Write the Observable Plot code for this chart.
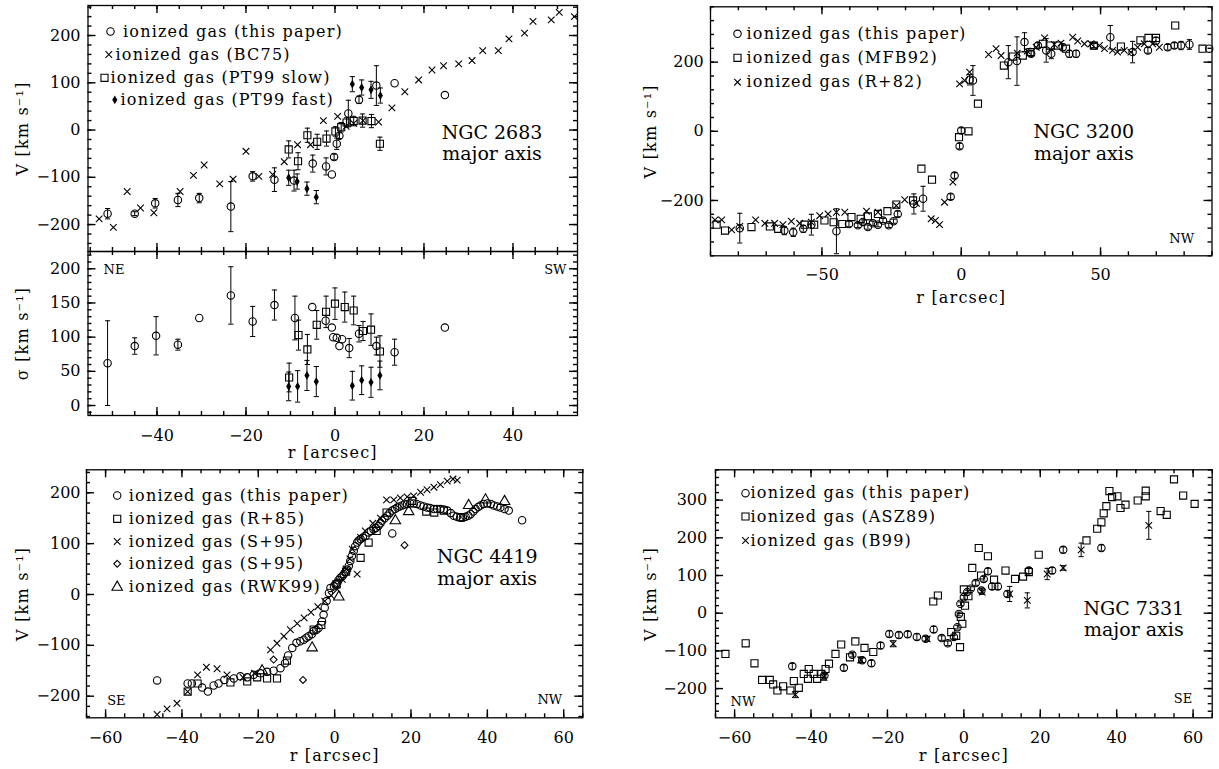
<!DOCTYPE html>
<html><head><meta charset="utf-8">
<script src="https://cdn.jsdelivr.net/npm/d3@7"></script>
<script src="https://cdn.jsdelivr.net/npm/@observablehq/plot@0.6"></script>
<style>
body{margin:0;background:#fff;}
#fig{position:relative;width:1219px;height:769px;overflow:hidden;background:#fff;}
#fig > div{position:absolute;}
#fig svg{overflow:visible;}
#fig g[aria-description="spaced"] text{letter-spacing:1.2px;}
</style></head><body><div id="fig"></div>
<script>
// ---------------- DATA ----------------
// NGC 2683, rotation velocity [r arcsec, V km/s, error]
const n2683V_this = [[-51.1,-177,11],[-45.0,-177,4],[-40.4,-155,10],[-35.3,-148,14],[-30.5,-144,10],[-23.4,-162,53],[-18.5,-98,10],[-13.6,-105,25],[-9.2,-107,22],[-5.0,-71,18],[-2.0,-77,18],[-0.7,-94,0],[-0.2,-57,6],[0.4,-29,12],[1.0,-12,6],[3.0,35,28],[5.4,64,8],[9.3,94,42],[13.4,99,0],[24.7,74,0]];
const n2683V_bc75 = [[-53,-188],[-49.8,-206],[-46.7,-130],[-43.7,-165],[-40.7,-175],[-34.8,-130],[-31.8,-96],[-29.4,-74],[-25.9,-114],[-22.9,-104],[-20.0,-45],[-17.1,-98],[-14.0,-94],[-11.4,-67],[-8.4,-31],[-5.5,-31],[-2.6,20],[0.6,29],[2.5,8],[4.2,14],[6.3,20],[9.8,17],[12.8,47],[15.7,81],[18.8,106],[21.8,127],[24.4,136],[27.8,140],[30.8,147],[33.2,168],[36.7,168],[39.1,193],[42.6,205],[44.5,230],[48.6,233],[50.4,249],[53.8,240]];
const n2683V_pt99slow = [[-10.4,-41,18],[-8.3,-66,18],[-6.2,-11,15],[-4.0,-25,16],[-1.9,-18,16],[0.1,-3,10],[1.4,6,10],[2.6,16,10],[4.2,19,10],[6.2,20,14],[8.2,19,14],[10.1,-29,14]];
const n2683V_pt99fast = [[-10.4,-101,16],[-8.5,-109,16],[-6.3,-124,14],[-4.2,-142,14],[3.9,97,16],[6.0,90,16],[8.1,85,18],[10.2,73,16]];
// NGC 2683, velocity dispersion [r, sigma, error]
const n2683S_this = [[-51.1,62,62],[-45.0,87,12],[-40.2,102,28],[-35.3,89,8],[-30.5,128,0],[-23.4,161,42],[-18.5,123,22],[-13.6,147,22],[-9.0,128,32],[-5.1,144,0],[-2.1,124,0],[-0.7,114,0],[-0.4,100,0],[0.4,99,0],[1.0,87,0],[1.6,97,0],[3.2,84,14],[5.4,105,12],[9.3,87,13],[13.4,78,19],[24.7,114,0]];
const n2683S_pt99slow = [[-10.3,41,21],[-8.2,103,22],[-6.2,82,22],[-4.1,118,21],[-2.0,137,23],[0.0,149,23],[2.2,144,22],[4.2,139,21],[6.3,109,14],[8.1,111,23],[10.1,79,23]];
const n2683S_pt99fast = [[-10.4,28,21],[-8.4,28,23],[-6.3,44,22],[-4.2,35,22],[3.9,29,21],[6.0,37,21],[8.1,34,22],[10.1,44,21]];

// NGC 3200
const n3200_this = [[-79.5,-280,43],[-63.5,-287,12],[-60.3,-292,12],[-56.7,-282,10],[-53.8,-270,30],[-44.8,-289,65],[-40.3,-268,8],[-37.1,-272,6],[-35.3,-262,6],[-33.5,-277,6],[-31.7,-266,6],[-29.9,-270,6],[-28.1,-258,6],[-26.0,-272,6],[-24.3,-260,6],[-22.8,-239,8],[-17.0,-210,29],[-13.7,-195,36],[-3.8,-189,8],[-2.4,-128,8],[-0.6,-43,8],[0.0,2,8],[3.0,149,15],[4.2,147,43],[16.9,200,48],[20.0,203,70],[22.7,258,27],[25.1,224,8],[27.5,248,8],[30.5,234,34],[32.3,224,14],[36.4,243,10],[38.8,224,10],[41.2,224,10],[47.6,248,6],[53.5,272,34],[61.5,229,31],[67.0,234,8],[69.9,262,10],[74.1,243,8],[76.5,248,8],[78.9,248,12],[81.9,251,14],[89.0,239,0]];
const n3200_mfb92 = [[-87.8,-270],[-84.8,-287],[-75.3,-277],[-68.7,-275],[-65.7,-282],[-56.2,-270],[-52.8,-270],[-49.1,-258],[-45.8,-263],[-42.7,-268],[-39.4,-248],[-36.1,-253],[-33.5,-246],[-29.9,-239],[-26.5,-231],[-23.3,-212],[-17.3,-200],[-14.3,-108],[-10.5,-140],[-0.8,-17],[2.6,0],[6.0,80],[15.3,190],[18.5,216],[22.1,219],[24.8,229],[29.3,253],[32.0,248],[34.7,248],[37.6,239],[47.6,248],[57.3,245],[64.3,263],[67.2,270],[69.9,270],[76.8,306],[86.6,239]];
const n3200_r82 = [[-88.4,-256],[-86.0,-256],[-82.4,-285],[-79.5,-275],[-73.8,-256],[-70.5,-266],[-67.0,-266],[-64.0,-270],[-61.0,-260],[-58.0,-266],[-53.8,-263],[-50.8,-244],[-47.8,-239],[-44.8,-234],[-41.8,-234],[-34.0,-231],[-29.9,-234],[-23.3,-215],[-20.3,-198],[-16.1,-208],[-10.8,-253],[-9.3,-258],[-7.8,-270],[-6.0,-205],[-3.0,-147],[-0.6,137],[1.2,147],[3.0,171],[9.8,222],[12.5,239],[14.3,219],[20.1,226],[23.7,232],[26.9,243],[29.9,270],[33.4,251],[35.8,255],[40.0,272],[41.8,261],[44.2,253],[46.6,253],[49.6,248],[51.4,239],[54.3,234],[56.1,229],[58.5,234],[60.9,229],[63.3,243],[65.7,253],[68.7,253],[71.1,243]];

// NGC 4419
const n4419_this = [[-46.5,-169],[-38.5,-175],[-37.4,-175],[-34.7,-183],[-33.2,-191],[-31.7,-179],[-30.4,-175],[-28.9,-168],[-26.4,-165],[-24.7,-161],[-22.9,-163],[-21.2,-158],[-19.4,-155],[-17.7,-152],[-16.0,-150],[-14.2,-145],[-13.0,-135],[-12.2,-120],[-11.1,-105],[-10.0,-95],[-9.0,-92],[-8.1,-89],[-7.4,-85],[-6.8,-82],[-6.0,-78],[-5.5,-72],[-4.8,-70],[-4.2,-66],[-3.3,-53],[-2.9,-40],[-2.6,-26],[-2.1,-13],[-1.5,3],[-1.1,13],[-0.2,16],[0.2,20],[0.7,23],[1.0,28],[1.5,33],[2.0,36],[2.4,40],[2.8,44],[3.3,49],[3.7,56],[4.1,66],[4.5,75],[5.0,86],[5.4,95],[5.9,102],[6.3,106],[6.8,109],[7.4,112],[8.1,115],[8.9,122],[9.5,125],[10.2,128],[10.8,131],[11.5,135],[12.0,140],[12.4,145],[13.1,150],[13.8,155],[14.4,160],[15.1,165],[15.8,168],[16.4,171],[17.0,173],[17.7,175],[18.3,177],[19.0,178],[19.8,179],[20.7,179],[21.5,178],[22.5,175],[23.3,173],[24.2,171],[25.0,170],[26.0,168],[26.8,168],[27.7,168],[28.6,167],[29.5,165],[30.4,160],[31.2,155],[32.0,153],[32.9,151],[33.6,151],[34.3,153],[35.0,155],[35.6,158],[36.3,163],[36.9,168],[37.6,172],[38.2,175],[39.0,178],[40.0,179],[40.9,178],[41.7,175],[42.6,173],[43.4,171],[44.5,168],[45.6,165],[49.1,146],[15.1,120]];
const n4419_r85 = [[-38.5,-191],[-35.9,-175],[-27.3,-173],[-22.9,-171],[-20.3,-163],[-17.7,-165],[-15.1,-165],[-12.5,-130],[-5.5,-69],[-3.5,-60],[0.5,20],[3.0,45],[6.8,72],[8.9,102],[11.0,125],[13.6,161],[20.3,184],[24.0,163],[26.1,161],[28.6,165],[33.0,152]];
const n4419_s95x = [[-46.5,-236],[-43.9,-225],[-41.3,-214],[-38.5,-191],[-35.9,-158],[-33.6,-143],[-30.8,-146],[-28.2,-158],[-24.0,-163],[-21.0,-155],[-16.8,-109],[-15.1,-96],[-13.3,-82],[-11.6,-69],[-9.8,-57],[-8.0,-46],[-6.2,-35],[-4.4,-24],[-2.6,-13],[-0.9,-2],[0.7,10],[2.0,30],[3.0,50],[4.0,70],[4.6,89],[5.9,40],[6.8,112],[8.0,125],[10.0,140],[12.0,150],[13.6,186],[15.5,186],[17.2,190],[19.0,192],[20.7,194],[22.5,201],[24.2,206],[26.0,211],[27.7,216],[29.5,223],[31.0,227],[32.1,225]];
const n4419_s95d = [[-16.0,-128],[-8.3,-168],[18.3,97]];
const n4419_rwk99 = [[-19.0,-150],[-5.9,-105],[1.1,-5],[15.9,145],[19.4,163],[35.1,175],[39.5,186],[44.5,183]];

// NGC 7331
const n7331_this = [[-44.9,-141,8],[-36.5,-165,5],[-31.4,-145,8],[-29.2,-110,6],[-26.6,-125,6],[-24.2,-133,8],[-21.8,-86,8],[-19.5,-55,8],[-17.0,-58,8],[-14.7,-56,8],[-12.3,-63,8],[-10.0,-68,6],[-7.9,-43,8],[-5.8,-66,6],[-4.2,-80,6],[-2.6,-63,5],[-1.7,-37,5],[-1.3,-2,5],[-0.9,25,5],[0.0,42,5],[0.9,56,5],[1.8,65,5],[3.1,80,6],[4.6,60,6],[5.2,91,6],[6.3,111,8],[7.4,71,8],[8.9,71,8],[11.4,51,8],[17.0,113,8],[23.1,113,8],[26.0,168,8],[36.0,173,8]];
const n7331_asz89 = [[-62.4,-108],[-57.1,-80],[-54.8,-133],[-52.8,-177],[-50.8,-177],[-49.9,-189],[-48.8,-205],[-47.3,-194],[-45.4,-205],[-44.5,-180],[-43.2,-198],[-41.9,-161],[-40.8,-174],[-40.6,-148],[-39.3,-161],[-38.4,-174],[-37.3,-161],[-36.2,-148],[-35.3,-134],[-33.6,-108],[-32.1,-83],[-29.8,-117],[-28.4,-75],[-26.0,-92],[-23.7,-103],[-8.0,31],[-6.8,47],[-3.3,-50],[-2.0,-60],[-1.0,-90],[-0.8,-10],[-0.4,-28],[0.0,63],[0.3,20],[1.2,45],[2.2,120],[3.9,173],[4.5,100],[6.3,151],[7.9,89],[10.9,113],[13.4,91],[15.5,97],[17.0,109],[19.6,155],[32.1,193],[34.9,224],[36.0,241],[36.6,265],[37.3,284],[38.1,324],[38.8,308],[40.2,310],[41.0,279],[42.3,288],[45.5,299],[47.6,310],[47.6,325],[51.5,271],[53.1,261],[55.0,355],[57.4,312],[60.4,290]];
const n7331_b99 = [[-44.1,-216,8],[-36.6,-170,8],[-27.0,-124,8],[-18.5,-81,8],[-9.6,-68,6],[4.8,56,6],[12.0,51,20],[16.6,34,20],[21.8,104,15],[26.0,120,6],[30.7,168,18],[48.4,233,37]];

// axis tick values
const ticks2683X = [-40,-20,0,20,40];
const ticks2683V = [-200,-100,0,100,200];
const ticks2683S = [0,50,100,150,200];
const ticks3200X = [-50,0,50];
const ticks3200V = [-200,0,200];
const ticks4419X = [-60,-40,-20,0,20,40,60];
const ticks4419V = [-200,-100,0,100,200];
const ticks7331X = [-60,-40,-20,0,20,40,60];
const ticks7331V = [-200,-100,0,100,200,300];

// legend / label texts
const leg2683 = ["ionized gas (this paper)","ionized gas (BC75)","ionized gas (PT99 slow)","ionized gas (PT99 fast)"];
const leg3200 = ["ionized gas (this paper)","ionized gas (MFB92)","ionized gas (R+82)"];
const leg4419 = ["ionized gas (this paper)","ionized gas (R+85)","ionized gas (S+95)","ionized gas (S+95)","ionized gas (RWK99)"];
const leg7331 = ["ionized gas (this paper)","ionized gas (ASZ89)","ionized gas (B99)"];

// ---------------- STYLE ----------------
const SYM = {
  circle:   {symbol: "circle",   r: 3.7, fill: "none"},
  times:    {symbol: "times",    r: 3.1, fill: "none"},
  square:   {symbol: "square",   r: 4.0, fill: "none"},
  fdiamond: {symbol: "diamond",  r: 2.0, fill: "black"},
  odiamond: {symbol: "diamond2", r: 3.1, fill: "none"},
  triangle: {symbol: "triangle", r: 3.9, fill: "none"}
};
const capSymbol = {draw(ctx, size) { const w = Math.sqrt(size / Math.PI); ctx.moveTo(-w, 0); ctx.lineTo(w, 0); }};
const FONT = "'DejaVu Serif', serif";

function seriesMarks(data, symKey, err) {
  const out = [];
  if (err) {
    const eb = data.filter(d => d[2] > 0);
    out.push(Plot.ruleX(eb, {x: d => d[0], y1: d => d[1] - d[2], y2: d => d[1] + d[2], stroke: "black", strokeWidth: 1}));
    out.push(Plot.dot(eb, {x: d => d[0], y: d => d[1] - d[2], symbol: capSymbol, r: 2.6, fill: "none", stroke: "black", strokeWidth: 1}));
    out.push(Plot.dot(eb, {x: d => d[0], y: d => d[1] + d[2], symbol: capSymbol, r: 2.6, fill: "none", stroke: "black", strokeWidth: 1}));
  }
  const s = SYM[symKey];
  out.push(Plot.dot(data, {x: d => d[0], y: d => d[1], symbol: s.symbol, r: s.r, fill: s.fill, stroke: "black", strokeWidth: 1.1}));
  return out;
}

function panel(cfg) {
  const [bx, by, bw, bh] = cfg.box, [L, T, R, B] = cfg.frame;
  const [x0, x1] = cfg.xDomain, [y0, y1] = cfg.yDomain;
  // tick lengths in pixels, converted to data units of each scale (inward ticks on all sides)
  const ux = px => px * (x1 - x0) / (R - L);
  const uy = px => px * (y1 - y0) / (B - T);
  const marks = [];
  const tk = {stroke: "black", strokeWidth: 1.4};
  for (const [t, len] of [[cfg.xMinor, 4], [cfg.xMajor, 8]]) {
    marks.push(Plot.ruleX(t, {x: d => d, y1: y0, y2: y0 + uy(len), ...tk}));
    marks.push(Plot.ruleX(t, {x: d => d, y1: y1 - uy(len), y2: y1, ...tk}));
  }
  for (const [t, len] of [[cfg.yMinor, 4], [cfg.yMajor, 8]]) {
    marks.push(Plot.ruleY(t, {y: d => d, x1: x0, x2: x0 + ux(len), ...tk}));
    marks.push(Plot.ruleY(t, {y: d => d, x1: x1 - ux(len), x2: x1, ...tk}));
  }
  if (cfg.xPad != null) marks.push(Plot.axisX(cfg.xMajor, {anchor: "bottom", tickSize: 0, tickPadding: cfg.xPad, label: null, fontSize: 16, fill: "black"}));
  marks.push(Plot.axisY(cfg.yMajor, {anchor: "left", tickSize: 0, tickPadding: cfg.yPad, label: null, fontSize: 16, fill: "black"}));
  marks.push(Plot.frame({stroke: "black", strokeWidth: 1.3}));
  for (const s of cfg.series) marks.push(...seriesMarks(s.data, s.sym, s.err));
  // axis titles
  marks.push(Plot.text([cfg.yTitle], {frameAnchor: "left", dx: cfg.yTitleDx, rotate: -90, fontSize: 16, textAnchor: "middle", lineAnchor: "middle", ariaDescription: "spaced"}));
  if (cfg.xTitle) marks.push(Plot.text([cfg.xTitle], {frameAnchor: "bottom", dy: cfg.xTitleDy, fontSize: 16, lineAnchor: "middle", ariaDescription: "spaced"}));
  // galaxy name
  if (cfg.name) marks.push(Plot.text([cfg.name], {frameAnchor: "top-left", dx: cfg.nameAt[0], dy: cfg.nameAt[1], fontSize: 19, lineHeight: 1.12, textAnchor: "middle", lineAnchor: "middle"}));
  // corner labels
  for (const c of (cfg.corners || [])) marks.push(Plot.text([c.text], {frameAnchor: c.anchor, dx: c.dx, dy: c.dy, fontSize: 13, textAnchor: c.anchor.endsWith("left") ? "start" : "end", lineAnchor: "middle"}));
  // legend
  if (cfg.legend) cfg.legend.labels.forEach((lab, i) => {
    const row = cfg.legend.rows[i];
    const s = SYM[row.sym];
    marks.push(Plot.dot([lab], {frameAnchor: "top-left", dx: row.sx, dy: row.sy, symbol: s.symbol, r: s.r, fill: s.fill, stroke: "black", strokeWidth: 1.1}));
    marks.push(Plot.text([lab], {frameAnchor: "top-left", dx: row.tx, dy: row.sy, fontSize: 16, textAnchor: "start", lineAnchor: "middle", ariaDescription: "spaced"}));
  });
  const svg = Plot.plot({
    width: bw, height: bh,
    marginLeft: L - bx, marginTop: T - by, marginRight: bx + bw - R, marginBottom: by + bh - B,
    x: {domain: cfg.xDomain, axis: null},
    y: {domain: cfg.yDomain, axis: null},
    style: {fontFamily: FONT, fontSize: "16px", background: "transparent", color: "black", overflow: "visible"},
    marks
  });
  const holder = document.createElement("div");
  holder.style.left = bx + "px"; holder.style.top = by + "px";
  holder.style.width = bw + "px"; holder.style.height = bh + "px";
  holder.appendChild(svg);
  document.getElementById("fig").appendChild(holder);
}

const range = (a, b, s) => d3.range(a, b + s / 2, s);

// NGC 2683 velocity
panel({
  box: [0, 0, 600, 258], frame: [87.5, 5, 577, 251],
  xDomain: [-55.5, 54.5], yDomain: [-257, 263.5],
  xMajor: ticks2683X, xMinor: range(-55, 50, 5), yMajor: ticks2683V, yMinor: range(-240, 260, 20),
  yPad: 7.5, yTitle: "V [km s⁻¹]", yTitleDx: -65.5,
  series: [
    {data: n2683V_bc75, sym: "times"},
    {data: n2683V_pt99slow, sym: "square", err: true},
    {data: n2683V_pt99fast, sym: "fdiamond", err: true},
    {data: n2683V_this, sym: "circle", err: true}
  ],
  name: "NGC 2683\nmajor axis", nameAt: [404, 137.5],
  legend: {labels: leg2683, rows: [
    {sym: "circle", sx: 22.5, sy: 26, tx: 35},
    {sym: "times", sx: 20.8, sy: 49, tx: 27.5},
    {sym: "square", sx: 16.5, sy: 72.3, tx: 22.5},
    {sym: "fdiamond", sx: 26.8, sy: 94.3, tx: 32.5}
  ]}
});
// NGC 2683 dispersion
panel({
  box: [0, 245, 600, 225], frame: [87.5, 251, 577, 415],
  xDomain: [-55.5, 54.5], yDomain: [-14.6, 225.3],
  xMajor: ticks2683X, xMinor: range(-55, 50, 5), yMajor: ticks2683S, yMinor: range(-10, 220, 10),
  xPad: 14, yPad: 7.5, yTitle: "σ [km s⁻¹]", yTitleDx: -65.5, xTitle: "r [arcsec]", xTitleDy: 37,
  series: [
    {data: n2683S_pt99slow, sym: "square", err: true},
    {data: n2683S_pt99fast, sym: "fdiamond", err: true},
    {data: n2683S_this, sym: "circle", err: true}
  ],
  corners: [{text: "NE", anchor: "top-left", dx: 15.5, dy: 18}, {text: "SW", anchor: "top-right", dx: -11, dy: 18}]
});
// NGC 3200
panel({
  box: [610, 0, 609, 310], frame: [710, 6.3, 1211.5, 255.3],
  xDomain: [-90, 90], yDomain: [-360, 360],
  xMajor: ticks3200X, xMinor: range(-90, 90, 10), yMajor: ticks3200V, yMinor: range(-360, 360, 40),
  xPad: 12.7, yPad: 6.7, yTitle: "V [km s⁻¹]", yTitleDx: -60, xTitle: "r [arcsec]", xTitleDy: 42,
  series: [
    {data: n3200_mfb92, sym: "square"},
    {data: n3200_r82, sym: "times"},
    {data: n3200_this, sym: "circle", err: true}
  ],
  name: "NGC 3200\nmajor axis", nameAt: [373.3, 135.4],
  corners: [{text: "NW", anchor: "bottom-right", dx: -18, dy: -17}],
  legend: {labels: leg3200, rows: [
    {sym: "circle", sx: 27, sy: 27, tx: 36},
    {sym: "square", sx: 27, sy: 51, tx: 36},
    {sym: "times", sx: 27, sy: 75.4, tx: 36}
  ]}
});
// NGC 4419
panel({
  box: [0, 462, 600, 307], frame: [86, 469.3, 582.3, 717.3],
  xDomain: [-65, 65], yDomain: [-242.5, 245.2],
  xMajor: ticks4419X, xMinor: range(-65, 65, 5), yMajor: ticks4419V, yMinor: range(-240, 240, 20),
  xPad: 14, yPad: 6, yTitle: "V [km s⁻¹]", yTitleDx: -64, xTitle: "r [arcsec]", xTitleDy: 38,
  series: [
    {data: n4419_r85, sym: "square"},
    {data: n4419_s95x, sym: "times"},
    {data: n4419_s95d, sym: "odiamond"},
    {data: n4419_rwk99, sym: "triangle"},
    {data: n4419_this, sym: "circle"}
  ],
  name: "NGC 4419\nmajor axis", nameAt: [400.7, 97.4],
  corners: [{text: "SE", anchor: "bottom-left", dx: 20.7, dy: -16.5}, {text: "NW", anchor: "bottom-right", dx: -20.6, dy: -18}],
  legend: {labels: leg4419, rows: [
    {sym: "circle", sx: 30.7, sy: 25.7, tx: 42.3},
    {sym: "square", sx: 30.7, sy: 49, tx: 42.3},
    {sym: "times", sx: 30.7, sy: 71.7, tx: 42.3},
    {sym: "odiamond", sx: 30.7, sy: 94, tx: 42.3},
    {sym: "triangle", sx: 30.7, sy: 117.4, tx: 42.3}
  ]}
});
// NGC 7331
panel({
  box: [610, 462, 609, 307], frame: [715, 469.3, 1211.7, 717.3],
  xDomain: [-65, 65], yDomain: [-277.5, 380.4],
  xMajor: ticks7331X, xMinor: range(-65, 65, 5), yMajor: ticks7331V, yMinor: range(-260, 380, 20),
  xPad: 14, yPad: 8.3, yTitle: "V [km s⁻¹]", yTitleDx: -65, xTitle: "r [arcsec]", xTitleDy: 38,
  series: [
    {data: n7331_asz89, sym: "square"},
    {data: n7331_b99, sym: "times", err: true},
    {data: n7331_this, sym: "circle", err: true}
  ],
  name: "NGC 7331\nmajor axis", nameAt: [418.3, 149],
  corners: [{text: "NW", anchor: "bottom-left", dx: 15, dy: -16.3}, {text: "SE", anchor: "bottom-right", dx: -20, dy: -19}],
  legend: {labels: leg7331, rows: [
    {sym: "circle", sx: 30, sy: 23.4, tx: 35},
    {sym: "square", sx: 30, sy: 46.7, tx: 35},
    {sym: "times", sx: 30, sy: 70.7, tx: 35}
  ]}
});
</script></body></html>
